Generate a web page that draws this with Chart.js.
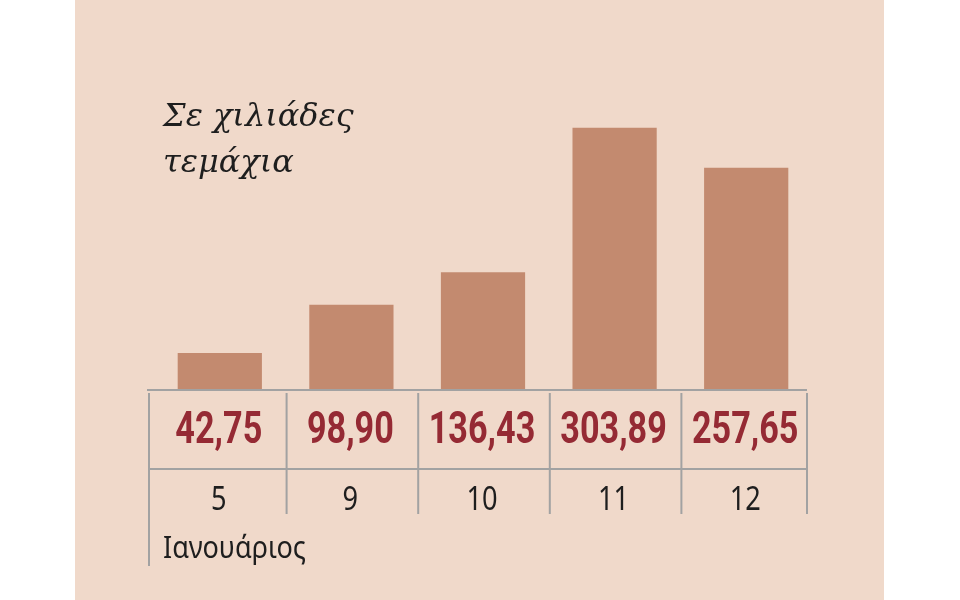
<!DOCTYPE html>
<html lang="el">
<head>
<meta charset="utf-8">
<title>Σε χιλιάδες τεμάχια</title>
<script src="https://cdn.jsdelivr.net/npm/chart.js@4.4.1/dist/chart.umd.min.js"></script>
<style>
  html, body { margin: 0; padding: 0; background: #ffffff; }
  #wrap { width: 960px; height: 600px; }
</style>
</head>
<body>
<div id="wrap"><canvas id="chart" width="960" height="600"></canvas></div>
<script>
// data
const days = ['5', '9', '10', '11', '12'];
const values = [42.75, 98.90, 136.43, 303.89, 257.65];
const monthName = 'Ιανουάριος';
const titleLines = ['Σε χιλιάδες', 'τεμάχια'];
const yMax = 350;

// colours
const PANEL = '#f0d9ca';
const BAR = '#c38a6f';
const RED = '#952a34';
const INK = '#1e1e1e';
const RULE = '#a2a2a2';

function fmt(v) { return v.toFixed(2).replace('.', ','); }

// text squeezed horizontally (the original uses a condensed face)
function narrowText(ctx, text, x, y, sx) {
  ctx.save();
  ctx.translate(x, y);
  ctx.scale(sx, 1);
  ctx.fillText(text, 0, 0);
  ctx.restore();
}

const panelPlugin = {
  id: 'panel',
  beforeDraw(chart) {
    const ctx = chart.ctx;
    ctx.save();
    ctx.fillStyle = '#ffffff';
    ctx.fillRect(0, 0, chart.width, chart.height);
    ctx.fillStyle = PANEL;
    ctx.fillRect(75, 0, 809, chart.height);

    // unit title
    ctx.fillStyle = INK;
    ctx.font = 'italic 32px "DejaVu Serif"';
    ctx.textAlign = 'left';
    ctx.textBaseline = 'alphabetic';
    titleLines.forEach((t, i) => ctx.fillText(t, 163, 126 + i * 46));
    ctx.restore();
  }
};

const tablePlugin = {
  id: 'table',
  afterDatasetsDraw(chart) {
    const ctx = chart.ctx;
    const x = chart.scales.x, y = chart.scales.y;
    const n = days.length;
    const half = (x.right - x.left) / n / 2;
    const top = y.getPixelForValue(0);
    const mid = top + 79;
    const bottom = top + 124;
    // the table frame sits a little left of the bar slots
    const left = x.getPixelForValue(0) - half - 5;
    const right = x.getPixelForValue(n - 1) + half - 5;

    ctx.save();
    ctx.strokeStyle = RULE;
    ctx.lineWidth = 2;
    ctx.beginPath();
    ctx.moveTo(left - 2, top); ctx.lineTo(right, top);
    ctx.moveTo(left, mid); ctx.lineTo(right, mid);
    for (let i = 0; i <= n; i++) {
      let px;
      if (i === 0) px = left;
      else if (i === n) px = right;
      else px = (x.getPixelForValue(i - 1) + x.getPixelForValue(i)) / 2 + 1;
      ctx.moveTo(px, top + 3);
      ctx.lineTo(px, i === 0 ? top + 176 : bottom);
    }
    ctx.stroke();

    // value row
    ctx.textAlign = 'center';
    ctx.textBaseline = 'alphabetic';
    ctx.fillStyle = RED;
    ctx.font = 'bold 45px Roboto';
    values.forEach((v, i) => narrowText(ctx, fmt(v), x.getPixelForValue(i) - 1, top + 53, 0.76));

    // day row
    ctx.fillStyle = INK;
    ctx.font = '32px "Noto Sans"';
    days.forEach((d, i) => narrowText(ctx, d, x.getPixelForValue(i) - 1, top + 120, 0.85));

    // month
    ctx.textAlign = 'left';
    ctx.font = '30px "Noto Sans"';
    narrowText(ctx, monthName, left + 14, top + 168, 0.9);
    ctx.restore();
  }
};

new Chart(document.getElementById('chart'), {
  type: 'bar',
  data: {
    labels: days,
    datasets: [{
      data: values,
      backgroundColor: BAR,
      borderWidth: 0,
      categoryPercentage: 0.64,
      barPercentage: 1
    }]
  },
  options: {
    responsive: false,
    devicePixelRatio: 1,
    animation: false,
    layout: { padding: { left: 154, right: 148, top: 88, bottom: 210 } },
    scales: {
      x: { display: false },
      y: { display: false, min: 0, max: yMax }
    },
    plugins: {
      legend: { display: false },
      tooltip: { enabled: false }
    }
  },
  plugins: [panelPlugin, tablePlugin]
});
</script>
</body>
</html>
